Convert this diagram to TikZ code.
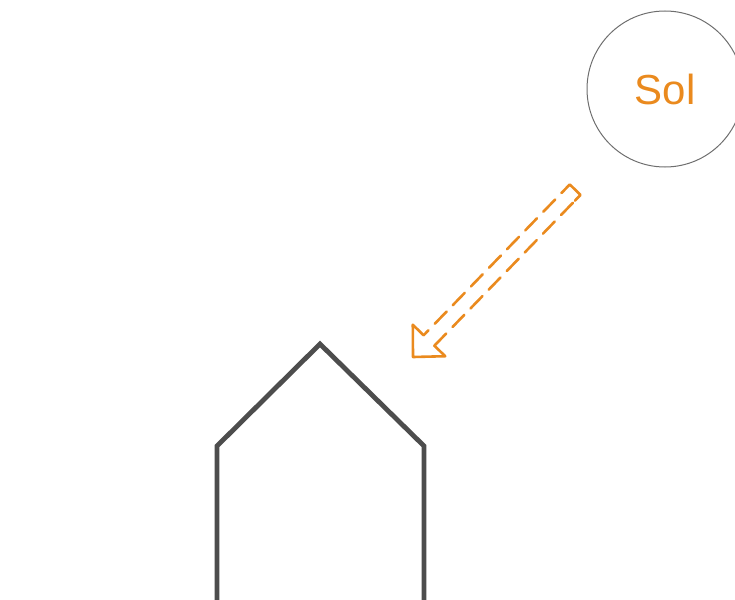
\documentclass[tikz,border=0pt]{standalone}
\usepackage{fontspec}
\setmainfont{Liberation Sans}
\usetikzlibrary{calc}
\definecolor{solorange}{RGB}{234,138,30}
\definecolor{housegray}{RGB}{77,77,77}
\definecolor{circgray}{RGB}{110,110,110}
\tikzset{
  sunbody/.style={circle, draw=circgray, line width=1pt, minimum size=156pt, inner sep=0pt,
    text=solorange, font=\fontsize{42}{42}\selectfont},
  housewall/.style={draw=housegray, line width=4.8pt, line join=miter},
  raysolid/.style={draw=solorange, line width=2.6pt, line join=round, line cap=round},
  raydash/.style={draw=solorange, line width=2.6pt, line cap=round, dash pattern=on 17pt off 9pt}
}
\begin{document}
\begin{tikzpicture}[x=1pt,y=-1pt]
\useasboundingbox (0,0) rectangle (735,599);
\clip (0,0) rectangle (735,599);
% sun
\node[sunbody] (sol) at (665,89) {Sol};
% house
\coordinate (hbl) at (217,602);
\coordinate (hl) at (217,446);
\coordinate (hapex) at (320,344);
\coordinate (hr) at (424,446);
\coordinate (hbr) at (424,602);
\path[housewall] (hbl) -- (hl) -- (hapex) -- (hr) -- (hbr);
% sun ray arrow
\begin{scope}[shift={(413,357)}, rotate=45.9]
  \coordinate (tip) at (0,0);
  \coordinate (barbA) at (23,22.6);
  \coordinate (barbB) at (23,-22.6);
  \coordinate (neckA) at (23,7.5);
  \coordinate (neckB) at (23,-7.5);
  \coordinate (tailA) at (233,7.5);
  \coordinate (tailB) at (233,-7.5);
  \coordinate (tailAin) at (225,7.5);
  \coordinate (tailBin) at (225,-7.5);
  \path[raysolid] (neckA) -- (barbA) -- (tip) -- (barbB) -- (neckB);
  \path[raydash] (neckA) -- (tailAin);
  \path[raydash, dash phase=10pt] (neckB) -- (tailBin);
  \path[raysolid] (tailAin) -- (tailA) -- (tailB) -- (tailBin);
\end{scope}
\end{tikzpicture}
\end{document}
